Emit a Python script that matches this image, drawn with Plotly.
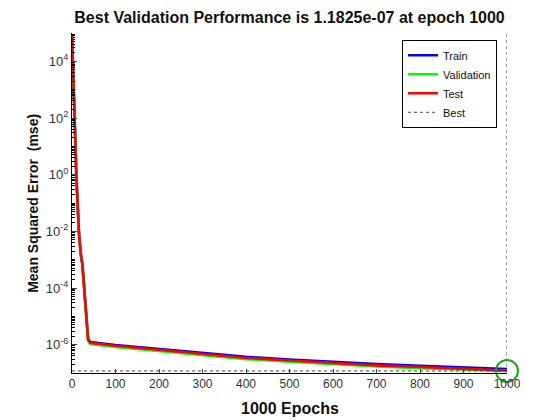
import plotly.graph_objects as go

# Training record (mse per epoch)
epochs = [0, 3, 7, 10, 16, 20, 24, 37, 42, 100, 200, 300, 400, 500, 600, 700, 800, 900, 1000]
train_mse = [8.5e4, 1.0e3, 3.2e1, 8.7e-1, 8.7e-3, 1.7e-3, 6.6e-4, 1.6e-6, 1.25e-6, 9.8e-7, 7.1e-7,
             5.1e-7, 3.7e-7, 3.0e-7, 2.45e-7, 2.05e-7, 1.78e-7, 1.56e-7, 1.38e-7]
val_mse = [8.3e4, 9.6e2, 3.0e1, 8.3e-1, 8.4e-3, 1.65e-3, 6.4e-4, 1.4e-6, 1.05e-6, 8.3e-7, 6.0e-7,
           4.3e-7, 3.1e-7, 2.5e-7, 2.05e-7, 1.7e-7, 1.48e-7, 1.30e-7, 1.1825e-7]
test_mse = [8.5e4, 1.0e3, 3.2e1, 8.7e-1, 8.7e-3, 1.7e-3, 6.6e-4, 1.5e-6, 1.17e-6, 9.1e-7, 6.6e-7,
            4.7e-7, 3.4e-7, 2.75e-7, 2.24e-7, 1.86e-7, 1.62e-7, 1.41e-7, 1.23e-7]

best_epoch = 1000
best_perf = 1.1825e-07

y_tick_exp = [-6, -4, -2, 0, 2, 4]
x_ticks = [0, 100, 200, 300, 400, 500, 600, 700, 800, 900, 1000]

y_lo, y_hi = -7, 5
minor_vals = [m * 10.0 ** e for e in range(y_lo, y_hi) for m in range(1, 10)]

fig = go.Figure()
fig.add_trace(go.Scatter(x=epochs, y=train_mse, mode='lines', name='Train',
                         line=dict(color='#0000ff', width=2.6)))
fig.add_trace(go.Scatter(x=epochs, y=val_mse, mode='lines', name='Validation',
                         line=dict(color='#00ff00', width=2.6)))
fig.add_trace(go.Scatter(x=epochs, y=test_mse, mode='lines', name='Test',
                         line=dict(color='#ff0000', width=2.6)))
fig.add_trace(go.Scatter(x=[best_epoch, best_epoch, None, 0, best_epoch],
                         y=[10 ** y_lo, 10 ** y_hi, None, best_perf, best_perf],
                         mode='lines', name='Best',
                         line=dict(color='#444444', width=1, dash='dot')))
fig.add_trace(go.Scatter(x=[best_epoch], y=[best_perf], mode='markers', showlegend=False,
                         cliponaxis=False,
                         marker=dict(symbol='circle-open', size=22, color='#1aa01a',
                                     line=dict(width=2, color='#1aa01a'))))

# page body keeps an 8px margin, so the figure is 8px smaller each way
fig.update_layout(
    width=552, height=412,
    margin=dict(l=64, r=53, t=25, b=47),
    paper_bgcolor='white', plot_bgcolor='white',
    font=dict(family='Liberation Sans, Arial, sans-serif', color='#222222', size=12),
    title=dict(text='<b>Best Validation Performance is 1.1825e-07 at epoch 1000</b>',
               x=0.51, xanchor='center', y=0.976, yanchor='middle',
               font=dict(size=16, color='#111111')),
    showlegend=True,
    legend=dict(x=0.977, y=0.98, xanchor='right', yanchor='top',
                bgcolor='white', bordercolor='black', borderwidth=1,
                font=dict(size=11, color='#111111'), tracegroupgap=0),
    annotations=[
        dict(text='<b>Mean Squared Error  (mse)</b>', xref='paper', yref='paper',
             x=-0.09, y=0.5, xanchor='center', yanchor='middle', textangle=-90,
             showarrow=False, font=dict(size=14, color='#111111')),
        dict(text='<b>1000 Epochs</b>', xref='paper', yref='paper',
             x=0.5, y=-0.105, xanchor='center', yanchor='middle',
             showarrow=False, font=dict(size=16, color='#111111')),
    ],
)

fig.update_xaxes(range=[0, 1000], tickvals=x_ticks, ticks='inside', ticklen=4,
                 showline=True, linecolor='black', linewidth=1, mirror=False, automargin=False,
                 showgrid=False, zeroline=False, tickfont=dict(size=12, color='#333333'))

fig.update_yaxes(type='log', range=[y_lo, y_hi],
                 tickvals=[10.0 ** e for e in y_tick_exp],
                 ticktext=['10<sup>%d</sup>' % e for e in y_tick_exp],
                 ticks='inside', ticklen=5, automargin=False,
                 minor=dict(tickmode='array', tickvals=minor_vals, ticks='inside', ticklen=3,
                            tickcolor='black', showgrid=False),
                 showline=True, linecolor='black', linewidth=1, mirror=False,
                 showgrid=False, zeroline=False, tickfont=dict(size=13, color='#333333'))

fig.write_html("out.html")
